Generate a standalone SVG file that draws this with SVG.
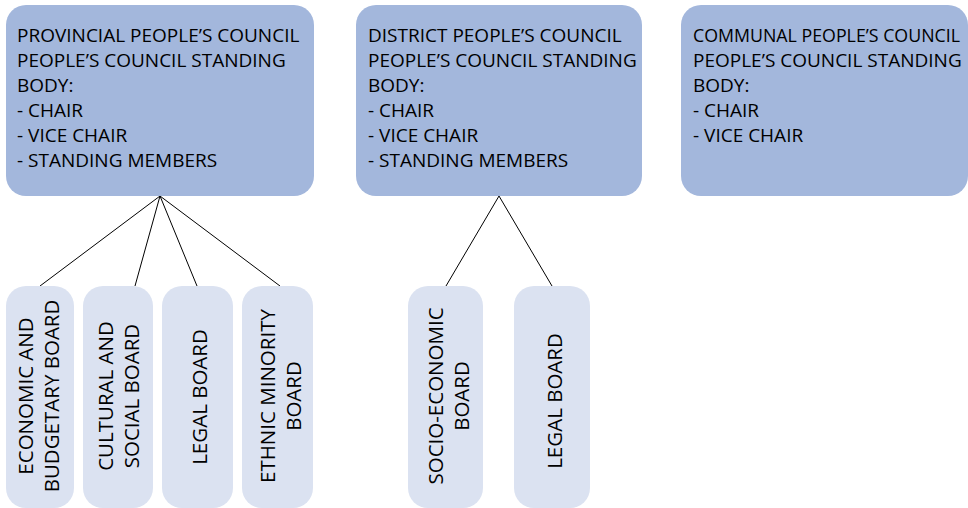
<svg xmlns="http://www.w3.org/2000/svg" width="968" height="508" viewBox="0 0 968 508">
<style>
.big{fill:#a3b7dc}
.small{fill:#dbe2f1}
.ht{font-family:"Open Sans","Liberation Sans",sans-serif;font-size:19px;fill:#000}
.vt{font-family:"Open Sans","Liberation Sans",sans-serif;font-size:20.5px;fill:#000;text-anchor:middle}
.conn line{stroke:#000;stroke-width:1}
</style>
<rect width="968" height="508" fill="#fff"/>
<g class="conn" id="connectors">
<line x1="160" y1="196" x2="40" y2="286"/>
<line x1="160" y1="196" x2="135" y2="286"/>
<line x1="160" y1="196" x2="197" y2="286"/>
<line x1="160" y1="196" x2="280" y2="286"/>
<line x1="499" y1="196" x2="446" y2="286"/>
<line x1="499" y1="196" x2="552" y2="286"/>
</g>
<g id="provincial">
<rect class="big" x="6" y="5" width="308" height="191" rx="20"/>
<text class="ht"><tspan x="17" y="42">PROVINCIAL PEOPLE’S COUNCIL</tspan><tspan x="17" y="67">PEOPLE’S COUNCIL STANDING</tspan><tspan x="17" y="92">BODY:</tspan><tspan x="17" y="117">- CHAIR</tspan><tspan x="17" y="142">- VICE CHAIR</tspan><tspan x="17" y="167">- STANDING MEMBERS</tspan></text>
</g>
<g id="district">
<rect class="big" x="356" y="5" width="286" height="191" rx="20"/>
<text class="ht"><tspan x="368" y="42">DISTRICT PEOPLE’S COUNCIL</tspan><tspan x="368" y="67">PEOPLE’S COUNCIL STANDING</tspan><tspan x="368" y="92">BODY:</tspan><tspan x="368" y="117">- CHAIR</tspan><tspan x="368" y="142">- VICE CHAIR</tspan><tspan x="368" y="167">- STANDING MEMBERS</tspan></text>
</g>
<g id="communal">
<rect class="big" x="681" y="5" width="287" height="191" rx="20"/>
<text class="ht" x="693" y="42" style="font-size:17.8px">COMMUNAL PEOPLE’S COUNCIL</text>
<text class="ht"><tspan x="693" y="67">PEOPLE’S COUNCIL STANDING</tspan><tspan x="693" y="92">BODY:</tspan><tspan x="693" y="117">- CHAIR</tspan><tspan x="693" y="142">- VICE CHAIR</tspan></text>
</g>
<g id="economic-board">
<rect class="small" x="6" y="286" width="68" height="222" rx="20"/>
<text class="vt" transform="translate(40,396) rotate(-90)"><tspan x="0" y="-7">ECONOMIC AND</tspan><tspan x="0" y="19">BUDGETARY BOARD</tspan></text>
</g>
<g id="cultural-board">
<rect class="small" x="83" y="286" width="70" height="222" rx="20"/>
<text class="vt" transform="translate(118,396) rotate(-90)"><tspan x="0" y="-5">CULTURAL AND</tspan><tspan x="0" y="21">SOCIAL BOARD</tspan></text>
</g>
<g id="legal-board-province">
<rect class="small" x="162" y="286" width="71" height="222" rx="20"/>
<text class="vt" transform="translate(197.5,397) rotate(-90)"><tspan x="0" y="9">LEGAL BOARD</tspan></text>
</g>
<g id="ethnic-board">
<rect class="small" x="242" y="286" width="71" height="222" rx="20"/>
<text class="vt" transform="translate(277.5,396) rotate(-90)"><tspan x="0" y="-3">ETHNIC MINORITY</tspan><tspan x="0" y="23">BOARD</tspan></text>
</g>
<g id="socio-economic-board">
<rect class="small" x="408" y="286" width="75" height="222" rx="20"/>
<text class="vt" transform="translate(445.5,396) rotate(-90)"><tspan x="0" y="-3">SOCIO-ECONOMIC</tspan><tspan x="0" y="23">BOARD</tspan></text>
</g>
<g id="legal-board-district">
<rect class="small" x="514" y="286" width="76" height="222" rx="20"/>
<text class="vt" transform="translate(552,401) rotate(-90)"><tspan x="0" y="10">LEGAL BOARD</tspan></text>
</g>
</svg>
